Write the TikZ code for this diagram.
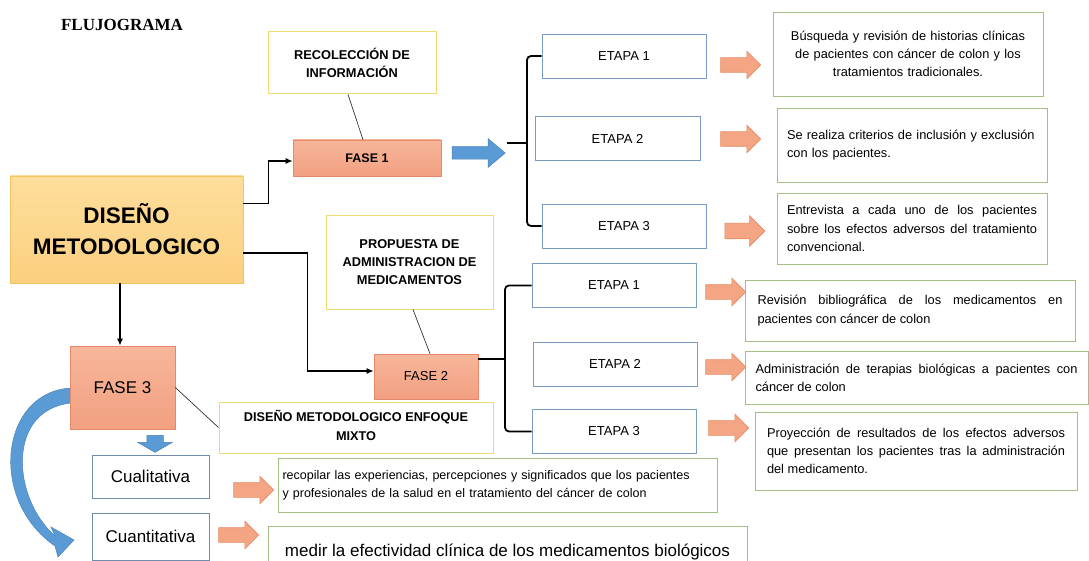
\documentclass[tikz,border=0pt]{standalone}
\usepackage{fontspec}
\setmainfont{Liberation Sans}
\newfontfamily\titlefont{Liberation Serif}
\usetikzlibrary{arrows.meta,shapes.arrows}

\definecolor{goldtop}{HTML}{FEDE9C}
\definecolor{goldbot}{HTML}{FBD07F}
\definecolor{goldedge}{HTML}{F2C35E}
\definecolor{salmontop}{HTML}{F7B69A}
\definecolor{salmonbot}{HTML}{F2A081}
\definecolor{salmonedge}{HTML}{E6896B}
\definecolor{noteedge}{HTML}{EEDC72}
\definecolor{stepedge}{HTML}{7A9CC1}
\definecolor{textedge}{HTML}{A4BD87}
\definecolor{flowblue}{HTML}{5B9BD5}
\definecolor{flowblueedge}{HTML}{4B84BA}
\definecolor{peach}{HTML}{F4A684}
\definecolor{peachedge}{HTML}{E88A63}

\begin{document}
\begin{tikzpicture}[
  x = 1pt, y = -1pt,
  every node/.style = {inner sep=0pt, font=\fontsize{12.8}{18.3}\selectfont},
  mainbox/.style    = {draw=goldedge, line width=0.8pt, top color=goldtop, bottom color=goldbot,
                       minimum width=233pt, minimum height=107pt, align=center,
                       font=\fontsize{22.5}{31}\selectfont\bfseries},
  phase/.style      = {draw=salmonedge, line width=0.6pt, top color=salmontop, bottom color=salmonbot},
  note/.style       = {draw=noteedge, line width=1pt, fill=white, align=center,
                       font=\fontsize{12.8}{18}\selectfont\bfseries},
  stage/.style      = {draw=stepedge, line width=0.8pt, fill=white, minimum width=164pt,
                       minimum height=44pt, font=\fontsize{13}{16}\selectfont},
  detail/.style     = {draw=textedge, line width=0.8pt, fill=white},
  link/.style       = {line width=1.6pt, -{Latex[length=7pt,width=6pt]}},
  brace/.style      = {line width=1.8pt, rounded corners=4pt},
  tie/.style        = {line width=0.7pt, draw=black!80},
  peacharrow/.style = {single arrow, draw=peachedge, fill=peach, line width=0.6pt,
                       inner xsep=0pt, inner ysep=7pt, single arrow head extend=6.5pt,
                       minimum height=40pt},
  bluearrow/.style  = {single arrow, draw=flowblueedge, fill=flowblue, line width=0.5pt,
                       inner xsep=0pt},
]
\useasboundingbox (0,0) rectangle (1089,561);

% title and main block
\node[font=\titlefont\bfseries\fontsize{17}{20}\selectfont] (title) at (122,25) {FLUJOGRAMA};
\node[mainbox] (diseno) at (126.5,229.5) {DISEÑO\\METODOLOGICO};

% fase 1
\node[note, minimum width=168pt, minimum height=62pt] (recol) at (352,63) {RECOLECCIÓN DE\\INFORMACIÓN};
\node[phase, minimum width=148pt, minimum height=36pt, font=\fontsize{12.5}{15}\selectfont\bfseries]
  (fase1) at (367,158) {\raisebox{-6pt}{FASE 1}};
\node[bluearrow, inner ysep=6pt, single arrow head extend=8pt, single arrow tip angle=80,
      minimum height=53pt] (go1) at (475,153) {};

\node[stage]                     (e11) at (624,56)      {ETAPA 1};
\node[stage, minimum width=165pt] (e12) at (617.5,138.5) {ETAPA 2};
\node[stage]                     (e13) at (624,226)     {ETAPA 3};

\node[peacharrow] (p11) at (737,65)  {};
\node[peacharrow] (p12) at (737,139) {};
\node[peacharrow, inner ysep=7.5pt, single arrow head extend=7.5pt] (p13) at (741,231) {};

\node[detail, minimum width=270pt, minimum height=84pt, text width=245pt, align=center] (r11) at (908,54)
  {Búsqueda y revisión de historias clínicas\\de pacientes con cáncer de colon y los\\tratamientos tradicionales.};
\node[detail, minimum width=270pt, minimum height=74pt, text width=250pt, align=left] (r12) at (912,145)
  {Se realiza criterios de inclusión y exclusión\\con los pacientes.};
\node[detail, minimum width=270pt, minimum height=71pt, text width=250pt, align=justify] (r13) at (912,228.5)
  {Entrevista a cada uno de los pacientes\linebreak sobre los efectos adversos del tratamiento\linebreak convencional.};

% fase 2
\node[note, minimum width=167pt, minimum height=93pt] (propuesta) at (409.5,262.5)
  {PROPUESTA DE\\ADMINISTRACION DE\\MEDICAMENTOS};
\node[phase, minimum width=104pt, minimum height=45pt, font=\fontsize{13}{15}\selectfont]
  (fase2) at (426,376.5) {FASE 2};

\node[stage] (e21) at (614,285.5) {ETAPA 1};
\node[stage] (e22) at (615,364)   {ETAPA 2};
\node[stage] (e23) at (614,431.5) {ETAPA 3};

\node[peacharrow] (p21) at (722,292) {};
\node[peacharrow] (p22) at (722,367) {};
\node[peacharrow] (p23) at (725,428) {};

\node[detail, minimum width=330pt, minimum height=61pt, text width=305pt, align=justify] (r21) at (910,310.5)
  {Revisión bibliográfica de los medicamentos en\linebreak pacientes con cáncer de colon};
\node[detail, minimum width=343pt, minimum height=53pt, text width=322pt, align=justify] (r22) at (916.5,377.5)
  {Administración de terapias biológicas a pacientes con\linebreak cáncer de colon};
\node[detail, minimum width=322pt, minimum height=78pt, text width=298pt, align=justify] (r23) at (916,451)
  {Proyección de resultados de los efectos adversos\linebreak que presentan los pacientes tras la administración\linebreak del medicamento.};

% fase 3
\fill[flowblue, draw=flowblueedge, line width=0.5pt]
  (71,388) .. controls (0,392) and (-12,500) .. (55,546) -- (58,557) -- (74,540)
  -- (51,527) -- (55,536) .. controls (12,498) and (6,410) .. (71,403) -- cycle;
\node[phase, minimum width=105pt, minimum height=83pt, font=\fontsize{17}{20}\selectfont]
  (fase3) at (122.5,387.5) {FASE 3};
\node[note, minimum width=274pt, minimum height=51pt, font=\fontsize{12.7}{19}\selectfont\bfseries]
  (mixto) at (356,427.5)
  {\raisebox{-6pt}{\begin{tabular}{@{}c@{}}DISEÑO METODOLOGICO ENFOQUE\\MIXTO\end{tabular}}};
\node[bluearrow, rotate=-90, inner ysep=8pt, single arrow head extend=9pt, single arrow tip angle=120,
      minimum height=17pt] (go3) at (155,441.5) {};

\node[stage, draw=stepedge!90!black, minimum width=117pt, minimum height=43pt, font=\fontsize{17}{20}\selectfont]
  (cuali) at (150.5,476.5) {Cualitativa};
\node[stage, draw=stepedge!90!black, minimum width=117pt, minimum height=47pt, font=\fontsize{17}{20}\selectfont]
  (cuanti) at (150.5,536.5) {Cuantitativa};

\node[peacharrow] (p31) at (250,490) {};
\node[peacharrow] (p32) at (235,535) {};

\node[detail, minimum width=439pt, minimum height=54pt, text width=430pt, align=left,
      font=\fontsize{12.5}{18}\selectfont] (recop) at (497.5,485)
  {recopilar las experiencias, percepciones y significados que los pacientes\\y profesionales de la salud en el tratamiento del cáncer de colon};
\node[detail, minimum width=479pt, minimum height=52pt, font=\fontsize{17}{20}\selectfont]
  (medir) at (507.5,552) {medir la efectividad clínica de los medicamentos biológicos};

% connectors
\draw[link] ([yshift=26pt]diseno.east) -- ++(25,0) |- ([yshift=-3pt]fase1.west);
\draw[link] ([yshift=-23.5pt]diseno.east) -- ++(64,0) |- ([yshift=5.5pt]fase2.west);
\draw[link] ([xshift=-2.5pt]fase3.north |- diseno.south) -- ([xshift=-2.5pt]fase3.north);

\draw[tie] ([xshift=-4pt]recol.south) -- ([xshift=-4pt]fase1.north);
\draw[tie] ([xshift=3.5pt]propuesta.south) -- ([xshift=4pt]fase2.north);
\draw[tie] (fase3.east) -- (mixto.west);

\coordinate (b1)     at (527,143);
\coordinate (b1tail) at (507,143);
\draw[brace] (e11.west) -| (b1) |- (e13.west);
\draw[brace] (b1tail) -- (b1);

\coordinate (b2) at (505,359);
\draw[brace] (e21.west) -| (b2) |- (e23.west);
\draw[brace] (fase2.east |- b2) -- (b2);

\end{tikzpicture}
\end{document}
